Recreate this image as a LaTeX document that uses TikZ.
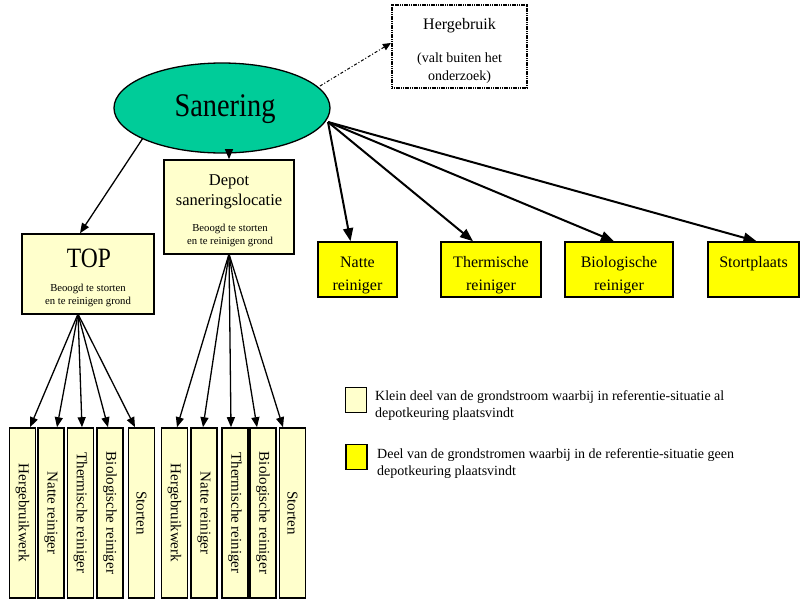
\documentclass[tikz,border=0pt]{standalone}
\usepackage{fontspec}
\setmainfont{Liberation Serif}
\usetikzlibrary{arrows.meta,shapes.geometric,calc}
\definecolor{lightyel}{HTML}{FFFFCC}
\definecolor{fullyel}{HTML}{FFFF00}
\definecolor{teal2}{HTML}{00CC99}
\newcommand{\fs}[1]{\fontsize{#1}{#1}\selectfont}
\tikzset{
  pale/.style={draw, line width=1.6pt, fill=lightyel, inner sep=0pt},
  bright/.style={draw, line width=1.6pt, fill=fullyel, inner sep=0pt, minimum height=55pt},
  column/.style={draw, line width=1.6pt, fill=lightyel, rotate=-90, inner sep=0pt,
    minimum width=170pt, minimum height=26pt, font=\fs{15}},
  line/.style={anchor=base, inner sep=0pt},
  arr/.style={line width=1.3pt, -{Triangle[length=10pt,width=8pt]}},
  thickarr/.style={line width=2pt, -{Triangle[length=13pt,width=10pt]}},
  keybox/.style={draw, line width=1.8pt, minimum width=21pt, minimum height=25pt, inner sep=0pt},
  keyline/.style={anchor=base west, inner sep=0pt, font=\fs{14}}
}
\begin{document}
\begin{tikzpicture}[x=1pt,y=-1pt]
\useasboundingbox (0,0) rectangle (800,600);

% central node
\node[draw, ellipse, fill=teal2, line width=1.3pt, minimum width=216pt, minimum height=90pt]
  (san) at (222,108) {};
\node[line] (santxt) at (225,116) {\scalebox{0.86}[1]{\fs{33}Sanering}};

% reuse, outside the scope
\node[draw, line width=2.2pt, dash pattern=on 1.2pt off 0.6pt, fill=white, minimum width=135pt,
  minimum height=83pt, inner sep=0pt] (herg) at (459.5,46.5) {};
\node[line, font=\fs{16}] (herg1) at (459.5,29) {Hergebruik};
\node[line, font=\fs{14}] (herg2) at (459.5,62) {(valt buiten het};
\node[line, font=\fs{14}] (herg3) at (459.5,80) {onderzoek)};

% depots
\node[pale, minimum width=130pt, minimum height=94pt] (depot) at (229,207) {};
\node[line, font=\fs{16.5}] (dep1) at (229,185) {Depot};
\node[line, font=\fs{16.5}] (dep2) at (229,205) {saneringslocatie};
\node[line, font=\fs{10.7}] (dep3) at (230,231) {Beoogd te storten};
\node[line, font=\fs{10.7}] (dep4) at (230,244.5) {en te reinigen grond};

\node[pale, minimum width=132pt, minimum height=80pt] (top) at (88,274) {};
\node[line] (top1) at (89,267) {\scalebox{0.84}[1]{\fs{28}TOP}};
\node[line, font=\fs{10.7}] (top2) at (88,291) {Beoogd te storten};
\node[line, font=\fs{10.7}] (top3) at (88,304.5) {en te reinigen grond};

% direct destinations
\node[bright, minimum width=79pt] (natte) at (357.5,269.5) {};
\node[bright, minimum width=100pt] (therm) at (491,269.5) {};
\node[bright, minimum width=108pt] (bio) at (619,269.5) {};
\node[bright, minimum width=91pt] (stort) at (753.5,269.5) {};
\node[line, font=\fs{16}] (natte1) at (357.5,267) {Natte};
\node[line, font=\fs{16}] (natte2) at (357.5,290) {reiniger};
\node[line, font=\fs{16}] (therm1) at (491,267) {Thermische};
\node[line, font=\fs{16}] (therm2) at (491,290) {reiniger};
\node[line, font=\fs{16}] (bio1) at (619,267) {Biologische};
\node[line, font=\fs{16}] (bio2) at (619,290) {reiniger};
\node[line, font=\fs{16}] (stort1) at (753.5,267) {Stortplaats};

% destinations via TOP
\node[column] (a1) at (22.5,513) {Hergebruikwerk};
\node[column] (a2) at (51,513) {Natte reiniger};
\node[column] (a3) at (80.5,513) {Thermische reiniger};
\node[column] (a4) at (110,513) {Biologische reiniger};
\node[column] (a5) at (141.5,513) {Storten};

% destinations via the site depot
\node[column] (b1) at (174.5,513) {Hergebruikwerk};
\node[column] (b2) at (204,513) {Natte reiniger};
\node[column] (b3) at (235,513) {Thermische reiniger};
\node[column] (b4) at (263,513) {Biologische reiniger};
\node[column] (b5) at (292.5,513) {Storten};

% connectors
\coordinate (sanR) at (328,122);
\coordinate (sanL) at (143,138);
\coordinate (sanNE) at (320,86);
\draw[line width=1pt, dash pattern=on 3pt off 2pt on 1pt off 2pt, -{Triangle[length=8pt,width=7pt]}]
  (sanNE) -- (herg.west |- 0,43);
\draw[arr] (san.south -| depot.north) -- (depot.north);
\draw[arr] (sanL) -- ([xshift=-8pt]top.north);
\draw[thickarr] (sanR) -- ([xshift=-7pt]natte.north);
\draw[thickarr] (sanR) -- ([xshift=-18pt]therm.north);
\draw[thickarr] (sanR) -- ([xshift=-5pt]bio.north);
\draw[thickarr] (sanR) -- ([xshift=3pt]stort.north);

\coordinate (topS) at (78,314);
\draw[arr] (topS) -- ([xshift=7.5pt]a1.west);
\draw[arr] (topS) -- ([xshift=6pt]a2.west);
\draw[arr] (topS) -- ([xshift=1.5pt]a3.west);
\draw[arr] (topS) -- ([xshift=-2pt]a4.west);
\draw[arr] (topS) -- ([xshift=-6.5pt]a5.west);

\coordinate (depS) at (229,254);
\draw[arr] (depS) -- ([xshift=2.5pt]b1.west);
\draw[arr] (depS) -- ([xshift=-1pt]b2.west);
\draw[arr] (depS) -- ([xshift=-4pt]b3.west);
\draw[arr] (depS) -- ([xshift=-6pt]b4.west);
\draw[arr] (depS) -- ([xshift=-9.5pt]b5.west);

% key
\node[keybox, fill=lightyel] (k1) at (356,400) {};
\node[keybox, fill=fullyel] (k2) at (356.5,457) {};
\node[keyline] (t1a) at (375,400) {Klein deel van de grondstroom waarbij in referentie-situatie al};
\node[keyline] (t1b) at (375,417) {depotkeuring plaatsvindt};
\node[keyline] (t2a) at (377,458) {Deel van de grondstromen waarbij in de referentie-situatie geen};
\node[keyline] (t2b) at (377,475) {depotkeuring plaatsvindt};
\end{tikzpicture}
\end{document}
